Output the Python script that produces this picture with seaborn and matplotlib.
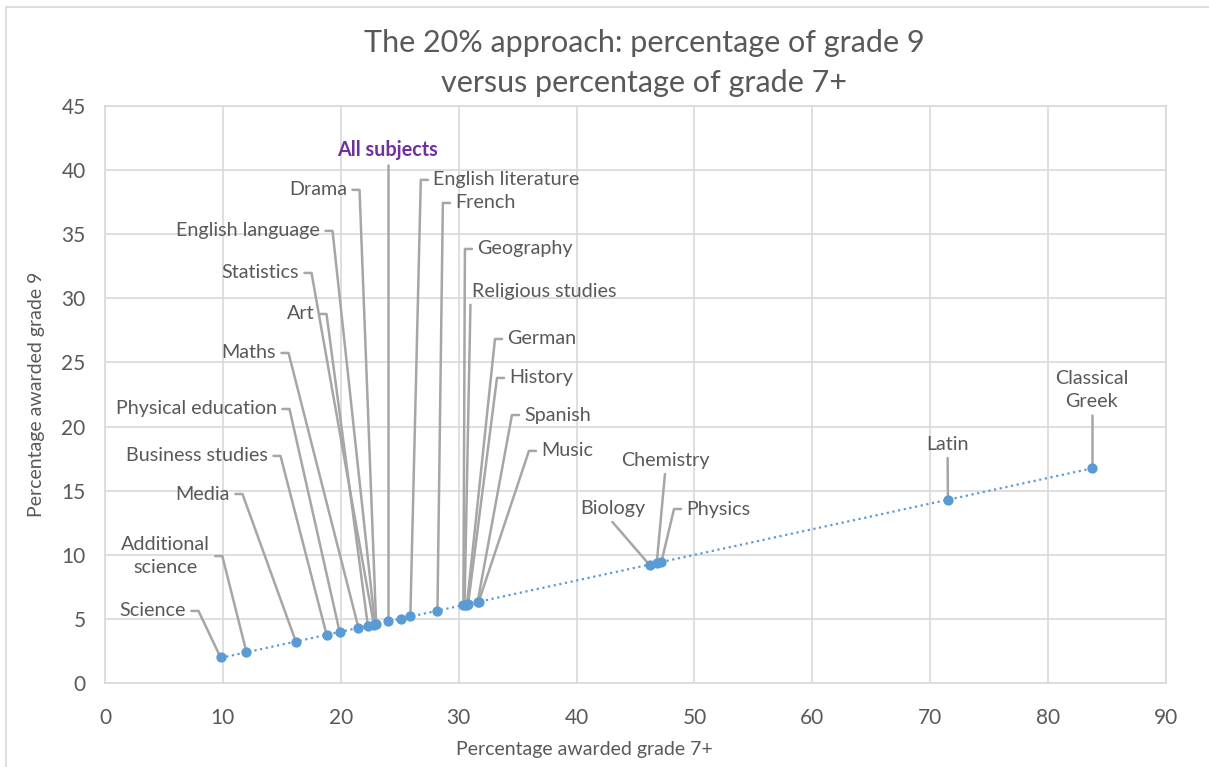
import numpy as np
import pandas as pd
import matplotlib
matplotlib.use("Agg")
import matplotlib.pyplot as plt
import seaborn as sns
from matplotlib.lines import Line2D

# ── data ────────────────────────────────────────────────────
subjects = ["Science", "Additional science", "Media", "Business studies",
            "Physical education", "Maths", "Art", "Statistics",
            "English language", "Drama", "All subjects", "",
            "English literature", "French", "Geography", "Religious studies",
            "German", "History", "Spanish", "Music",
            "Biology", "Chemistry", "Physics", "Latin", "Classical Greek"]
grade7 = [9.8, 12.0, 16.2, 18.8, 19.9, 21.5, 22.3, 22.8, 22.9, 23.0, 24.0, 25.1,
          25.9, 28.2, 30.4, 30.5, 30.7, 30.8, 31.6, 31.7,
          46.2, 46.8, 47.2, 71.5, 83.7]
grade9 = [2.0, 2.4, 3.2, 3.75, 4.0, 4.3, 4.45, 4.55, 4.6, 4.6, 4.8, 5.0,
          5.2, 5.65, 6.05, 6.1, 6.1, 6.15, 6.3, 6.35,
          9.2, 9.35, 9.45, 14.3, 16.75]

# label layout (data coords): 'left' = text left of leader, 'right' = text right,
# 'above' = text centred above leader top
label_x = [6.88, 8.9, 10.61, 13.84, 14.60, 14.52, 17.74, 16.47, 18.25, 20.54, 24.0, None,
           27.84, 29.71, 31.58, 31.0, 34.13, 34.30, 35.57, 37.01,
           43.04, 47.5, 49.32, 71.48, 83.7]
label_y = [5.62, 9.9, 14.74, 17.71, 21.37, 25.74, 28.78, 31.98, 35.26, 38.46, 40.4, None,
           39.24, 37.44, 33.85, 29.5, 26.83, 23.79, 20.9, 18.1,
           12.56, 16.3, 13.57, 17.55, 20.9]
label_kind = ["left", "left", "left", "left", "left", "left", "left", "left",
              "left", "left", "above", None,
              "right", "right", "right", "above_l", "right", "right", "right", "right",
              "above", "above", "right", "above", "above"]

df = pd.DataFrame({"subject": subjects, "g7": grade7, "g9": grade9})

# ── style ───────────────────────────────────────────────────
sns.set_theme(style="white")
plt.rcParams["font.family"] = ["Lato", "DejaVu Sans"]
txt_col = "#595959"
grid_col = "#D9D9D9"
pt_col = "#5B9BD5"
lead_col = "#A6A6A6"

fig = plt.figure(figsize=(12.09, 7.67), dpi=100)
ax = fig.add_axes([105 / 1209, 84 / 767, (1166 - 105) / 1209, (683 - 106) / 767])

# leader lines first so points sit on top
for lab, lx, ly, kind, px, py in zip(subjects, label_x, label_y, label_kind, grade7, grade9):
    if kind is None:
        continue
    if kind == "left":
        xs, ys = [lx + 0.45, lx + 1.05, px], [ly, ly, py]
    elif kind == "right":
        xs, ys = [lx - 0.45, lx - 1.05, px], [ly, ly, py]
    else:
        xs, ys = [lx, px], [ly, py]
    ax.add_line(Line2D(xs, ys, color=lead_col, lw=1.8, zorder=2))

# trendline + points
sns.regplot(data=df, x="g7", y="g9", scatter=False, ci=None, truncate=True, ax=ax,
            line_kws=dict(color=pt_col, lw=1.6, ls=(0, (1, 1.6)), zorder=3))
sns.scatterplot(data=df, x="g7", y="g9", color=pt_col, s=55, edgecolor=pt_col,
                linewidth=0, ax=ax, zorder=4)

# labels
for lab, lx, ly, kind in zip(subjects, label_x, label_y, label_kind):
    if kind is None:
        continue
    kw = dict(fontsize=14.2, color=txt_col, va="center", zorder=5)
    if lab == "All subjects":
        kw.update(color="#7030A0", fontweight="bold")
    if kind == "left":
        ax.text(lx, ly, lab.replace("Additional science", "Additional\nscience"),
                ha="right", multialignment="center", linespacing=1.45, **kw)
    elif kind == "right":
        ax.text(lx, ly, lab, ha="left", **kw)
    elif kind == "above_l":
        kw["va"] = "bottom"
        ax.text(lx + 0.15, ly + 0.4, lab, ha="left", **kw)
    else:
        kw["va"] = "bottom"
        ax.text(lx, ly + 0.4, lab.replace("Classical Greek", "Classical\nGreek"),
                ha="center", multialignment="center", linespacing=1.45, **kw)

# axes
ax.set_xlim(0, 90)
ax.set_ylim(0, 45)
ax.set_xticks(np.arange(0, 91, 10))
ax.set_yticks(np.arange(0, 46, 5))
ax.grid(True, color=grid_col, lw=1.2, zorder=0)
ax.set_axisbelow(True)
for s in ax.spines.values():
    s.set_color(grid_col)
    s.set_linewidth(1.2)
ax.tick_params(axis="both", length=0, labelsize=15, colors=txt_col)
ax.tick_params(axis="x", pad=18)
ax.tick_params(axis="y", pad=14)
ax.set_xlabel("Percentage awarded grade 7+", fontsize=14, color=txt_col)
ax.xaxis.set_label_coords((584 - 105) / 1061, -0.1)
ax.set_ylabel("Percentage awarded grade 9", fontsize=14, color=txt_col, labelpad=12)

fig.text(644 / 1209, 1 - 63 / 767, "The 20% approach: percentage of grade 9\nversus percentage of grade 7+",
         ha="center", va="center", fontsize=22, color=txt_col, linespacing=1.55)

# chart border (top and left edges visible)
fig.add_artist(Line2D([6 / 1209, 1], [1 - 7 / 767, 1 - 7 / 767], color=grid_col, lw=1.2,
                      transform=fig.transFigure))
fig.add_artist(Line2D([6 / 1209, 6 / 1209], [0, 1 - 7 / 767], color=grid_col, lw=1.2,
                      transform=fig.transFigure))

fig.savefig("out.png", dpi=100)
